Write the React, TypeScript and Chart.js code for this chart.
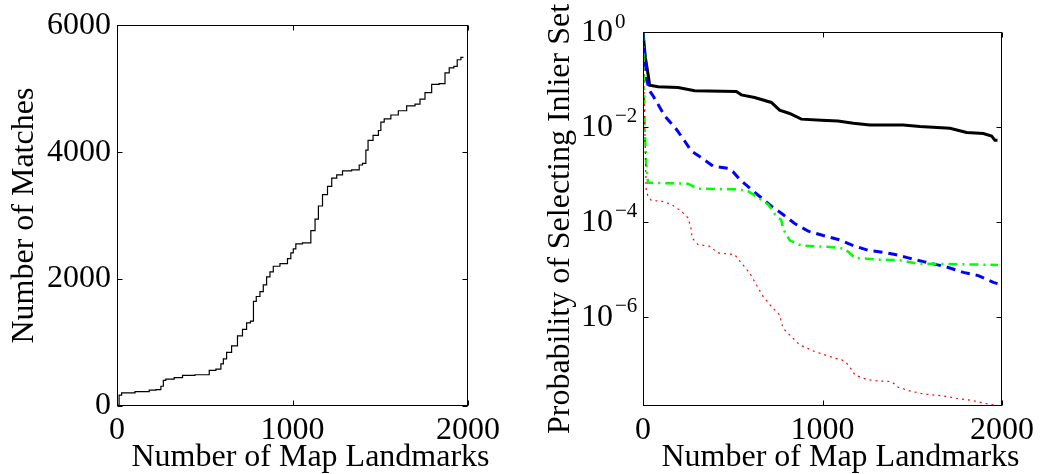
import React, { useEffect, useRef } from "react";
import { Chart, registerables } from "chart.js";

Chart.register(...registerables);

const FONT = '"Liberation Serif", "Times New Roman", serif';

// ---------- Left panel data ----------
const matchLandmarks = [
  3, 7, 17, 36, 169, 198, 245, 255, 273, 283, 369, 378, 511, 540, 587, 597, 615, 634, 672, 701,
  729, 748, 773, 782, 805, 824, 843, 862, 881, 900, 957, 986, 995, 1014, 1024, 1090, 1119, 1138, 1157, 1185,
  1214, 1233, 1271, 1299, 1375, 1385, 1413, 1423, 1438, 1480, 1499, 1508, 1537, 1584, 1622, 1679, 1717, 1736, 1774, 1812,
  1859, 1879, 1907, 1932, 1945, 1974,
];
const matchCounts = [
  0, 16, 171, 207, 228, 249, 259, 311, 404, 425, 446, 482, 492, 560, 580, 663, 741, 844, 948, 1104,
  1207, 1311, 1337, 1648, 1725, 1803, 1907, 2036, 2114, 2202, 2243, 2321, 2414, 2476, 2554, 2570, 2762, 2943, 3151, 3331,
  3462, 3591, 3642, 3704, 3720, 3797, 3824, 4031, 4186, 4264, 4341, 4472, 4523, 4585, 4652, 4730, 4756, 4834, 4938, 5067,
  5078, 5249, 5327, 5352, 5456, 5492,
];
const leftXTicks = [0, 1000, 2000];
const leftYTicks = [0, 2000, 4000, 6000];

// ---------- Right panel data ----------
const blackX = [0, 13, 28, 37, 84, 195, 288, 520, 548, 622, 715, 761, 817, 882, 993, 1086, 1172, 1264, 1450, 1543, 1710, 1803, 1896, 1942, 1960, 1975];
const blackY = [1, 0.292, 0.13, 0.076, 0.07, 0.0679, 0.0577, 0.056, 0.0474, 0.0418, 0.0328, 0.0225, 0.0192, 0.0146, 0.0139, 0.0134, 0.012, 0.011, 0.011, 0.0102, 0.0094, 0.00762, 0.00724, 0.00646, 0.00525, 0.00525];

const blueX = [0, 20, 37, 56, 121, 186, 232, 269, 325, 390, 474, 501, 539, 603, 659, 715, 780, 845, 921, 1004, 1088, 1172, 1255, 1358, 1404, 1478, 1562, 1692, 1785, 1868, 1952, 1975];
const blueY = [1, 0.1, 0.0577, 0.0452, 0.0171, 0.00893, 0.00506, 0.00311, 0.00225, 0.0015, 0.00134, 0.00114, 0.000785, 0.000483, 0.000322, 0.000214, 0.000143, 0.0000923, 0.0000635, 0.0000515, 0.0000424, 0.0000316, 0.0000252, 0.0000222, 0.0000205, 0.0000174, 0.0000145, 0.0000112, 0.00000863, 0.00000736, 0.00000531, 0.000005];

const greenX = [0, 4, 9, 18, 28, 251, 306, 529, 585, 622, 697, 743, 770, 782, 817, 882, 1042, 1125, 1181, 1320, 1432, 1525, 1978];
const greenY = [1, 0.13, 0.0114, 0.00163, 0.000668, 0.000637, 0.000499, 0.000483, 0.000445, 0.000361, 0.000233, 0.000132, 0.00011, 0.000069, 0.000041, 0.0000316, 0.0000297, 0.0000269, 0.0000174, 0.000016, 0.0000155, 0.0000132, 0.0000124];

const redX = [0, 8, 18, 28, 46, 102, 158, 213, 251, 269, 273, 306, 372, 418, 511, 548, 594, 631, 669, 715, 761, 780, 817, 873, 957, 1013, 1070, 1107, 1135, 1163, 1181, 1227, 1283, 1385, 1422, 1487, 1562, 1673, 1747, 1840, 1905, 1967];
const redY = [1, 0.02, 0.00045, 0.000349, 0.000282, 0.000274, 0.000233, 0.000168, 0.000122, 0.000069, 0.000046, 0.0000333, 0.0000306, 0.0000222, 0.0000204, 0.0000136, 0.00000838, 0.00000475, 0.00000269, 0.00000165, 0.0000011, 5.77e-7, 4.17e-7, 2.56e-7, 1.85e-7, 1.58e-7, 1.34e-7, 1.24e-7, 1.05e-7, 7.59e-8, 5.96e-8, 5.07e-8, 4.52e-8, 4.31e-8, 3.27e-8, 2.74e-8, 2.37e-8, 2.15e-8, 1.92e-8, 1.71e-8, 1.5e-8, 1.36e-8];

const rightXTicks = [0, 1000, 2000];
const rightYTicks = [1, 1e-2, 1e-4, 1e-6];
const rightYTickBase = "10";
const rightYTickExponents = ["0", "\u22122", "\u22124", "\u22126"];
const rightYMin = 1.32e-8;
const rightYMax = 1;

const xTitle = "Number of Map Landmarks";
const leftYTitle = "Number of Matches";
const rightYTitle = "Probability of Selecting Inlier Set";

const toPoints = (xs: number[], ys: number[]) => xs.map((x, i) => ({ x, y: ys[i] }));
const plainNumber = (v: any) => String(v);

const framePlugin = {
  id: "matlabFrame",
  afterDatasetsDraw(chart: any) {
    const { ctx, chartArea: a, scales } = chart;
    ctx.save();
    ctx.strokeStyle = "#000";
    ctx.lineWidth = 1;
    const l = Math.round(a.left) + 0.5;
    const t = Math.round(a.top) + 0.5;
    const r = Math.round(a.right) - 0.5;
    const b = Math.round(a.bottom) - 0.5;
    ctx.strokeRect(l, t, r - l, b - t);
    const tl = 5;
    ctx.beginPath();
    scales.x.ticks.forEach((tk: any) => {
      const p = Math.round(scales.x.getPixelForValue(tk.value)) + 0.5;
      ctx.moveTo(p, b);
      ctx.lineTo(p, b - tl);
      ctx.moveTo(p, t);
      ctx.lineTo(p, t + tl);
    });
    scales.y.ticks.forEach((tk: any) => {
      const p = Math.round(scales.y.getPixelForValue(tk.value)) + 0.5;
      ctx.moveTo(l, p);
      ctx.lineTo(l + tl, p);
      ctx.moveTo(r, p);
      ctx.lineTo(r - tl, p);
    });
    ctx.stroke();
    ctx.restore();
  },
};

const xTitlePlugin = {
  id: "xTitleShifted",
  afterDraw(chart: any) {
    const { ctx, chartArea: a } = chart;
    ctx.save();
    ctx.fillStyle = "#000";
    ctx.font = `32px ${FONT}`;
    ctx.textAlign = "center";
    ctx.textBaseline = "alphabetic";
    ctx.fillText(xTitle, (a.left + a.right) / 2 + 18, 466);
    ctx.restore();
  },
};

const logLabelPlugin = {
  id: "logLabels",
  afterDraw(chart: any) {
    const { ctx, chartArea: a, scales } = chart;
    ctx.save();
    ctx.fillStyle = "#000";
    rightYTicks.forEach((v, i) => {
      const y = scales.y.getPixelForValue(v);
      ctx.font = `32px ${FONT}`;
      ctx.textAlign = "right";
      ctx.textBaseline = "middle";
      ctx.fillText(rightYTickBase, a.left - 30, y + 1);
      ctx.font = `21px ${FONT}`;
      ctx.textAlign = "left";
      ctx.fillText(rightYTickExponents[i], a.left - 28, y - 10);
    });
    ctx.restore();
  },
};

const tickFont = { family: FONT, size: 32 };

function leftConfig(): any {
  return {
    type: "line",
    data: {
      datasets: [
        {
          data: toPoints(matchLandmarks, matchCounts),
          borderColor: "#000",
          borderWidth: 1.2,
          pointRadius: 0,
          stepped: "middle",
          fill: false,
        },
      ],
    },
    options: {
      responsive: false,
      animation: false,
      devicePixelRatio: 1,
      events: [],
      layout: { padding: { top: 20, right: 53, left: 0, bottom: 0 } },
      plugins: { legend: { display: false }, tooltip: { enabled: false } },
      scales: {
        x: {
          type: "linear",
          min: 0,
          max: 2000,
          afterBuildTicks: (s: any) => {
            s.ticks = leftXTicks.map((v) => ({ value: v }));
          },
          grid: { display: false, drawTicks: false },
          border: { display: false },
          ticks: { font: tickFont, color: "#000", padding: 5, maxRotation: 0, autoSkip: false, callback: plainNumber },
          afterFit: (s: any) => {
            s.height = 68;
            s.paddingLeft = 0;
            s.paddingRight = 0;
          },
        },
        y: {
          type: "linear",
          min: 0,
          max: 6000,
          afterBuildTicks: (s: any) => {
            s.ticks = leftYTicks.map((v) => ({ value: v }));
          },
          grid: { display: false, drawTicks: false },
          border: { display: false },
          ticks: { font: tickFont, color: "#000", padding: 6, autoSkip: false, callback: plainNumber },
          title: {
            display: true,
            text: leftYTitle,
            color: "#000",
            font: { family: FONT, size: 32 },
            padding: { top: 5, bottom: 0 },
          },
          afterFit: (s: any) => {
            s.width = 117;
          },
        },
      },
    },
    plugins: [framePlugin, xTitlePlugin],
  };
}

function rightConfig(): any {
  const line = (xs: number[], ys: number[], color: string, width: number, dash: number[]) => ({
    data: toPoints(xs, ys),
    borderColor: color,
    borderWidth: width,
    borderDash: dash,
    pointRadius: 0,
    fill: false,
    tension: 0,
  });
  return {
    type: "line",
    data: {
      datasets: [
        line(redX, redY, "#ff0000", 1.2, [2, 4]),
        line(greenX, greenY, "#00ff00", 2.5, [9, 5, 2, 5]),
        line(blueX, blueY, "#0000ff", 3, [9, 6]),
        line(blackX, blackY, "#000000", 3, []),
      ],
    },
    options: {
      responsive: false,
      animation: false,
      devicePixelRatio: 1,
      events: [],
      layout: { padding: { top: 32, right: 41, left: 16, bottom: 0 } },
      plugins: { legend: { display: false }, tooltip: { enabled: false } },
      scales: {
        x: {
          type: "linear",
          min: 0,
          max: 2000,
          afterBuildTicks: (s: any) => {
            s.ticks = rightXTicks.map((v) => ({ value: v }));
          },
          grid: { display: false, drawTicks: false },
          border: { display: false },
          ticks: { font: tickFont, color: "#000", padding: 5, maxRotation: 0, autoSkip: false, callback: plainNumber },
          afterFit: (s: any) => {
            s.height = 68;
            s.paddingLeft = 0;
            s.paddingRight = 0;
          },
        },
        y: {
          type: "logarithmic",
          min: rightYMin,
          max: rightYMax,
          afterBuildTicks: (s: any) => {
            s.ticks = rightYTicks.map((v) => ({ value: v }));
          },
          grid: { display: false, drawTicks: false },
          border: { display: false },
          ticks: { display: false },
          title: {
            display: true,
            text: rightYTitle,
            color: "#000",
            font: { family: FONT, size: 32 },
            padding: { top: 4, bottom: 0 },
          },
          afterFit: (s: any) => {
            s.width = 106;
          },
        },
      },
    },
    plugins: [framePlugin, xTitlePlugin, logLabelPlugin],
  };
}

export default function App() {
  const leftRef = useRef<HTMLCanvasElement>(null);
  const rightRef = useRef<HTMLCanvasElement>(null);

  useEffect(() => {
    const left = new Chart(leftRef.current as HTMLCanvasElement, leftConfig());
    const right = new Chart(rightRef.current as HTMLCanvasElement, rightConfig());
    return () => {
      left.destroy();
      right.destroy();
    };
  }, []);

  return (
    <div
      style={{
        position: "absolute",
        left: 0,
        top: 0,
        width: 1043,
        height: 474,
        background: "#fff",
        overflow: "hidden",
      }}
    >
      <canvas
        ref={leftRef}
        width={521}
        height={474}
        style={{ position: "absolute", left: 0, top: 0, width: 521, height: 474 }}
      />
      <canvas
        ref={rightRef}
        width={522}
        height={474}
        style={{ position: "absolute", left: 521, top: 0, width: 522, height: 474 }}
      />
    </div>
  );
}
